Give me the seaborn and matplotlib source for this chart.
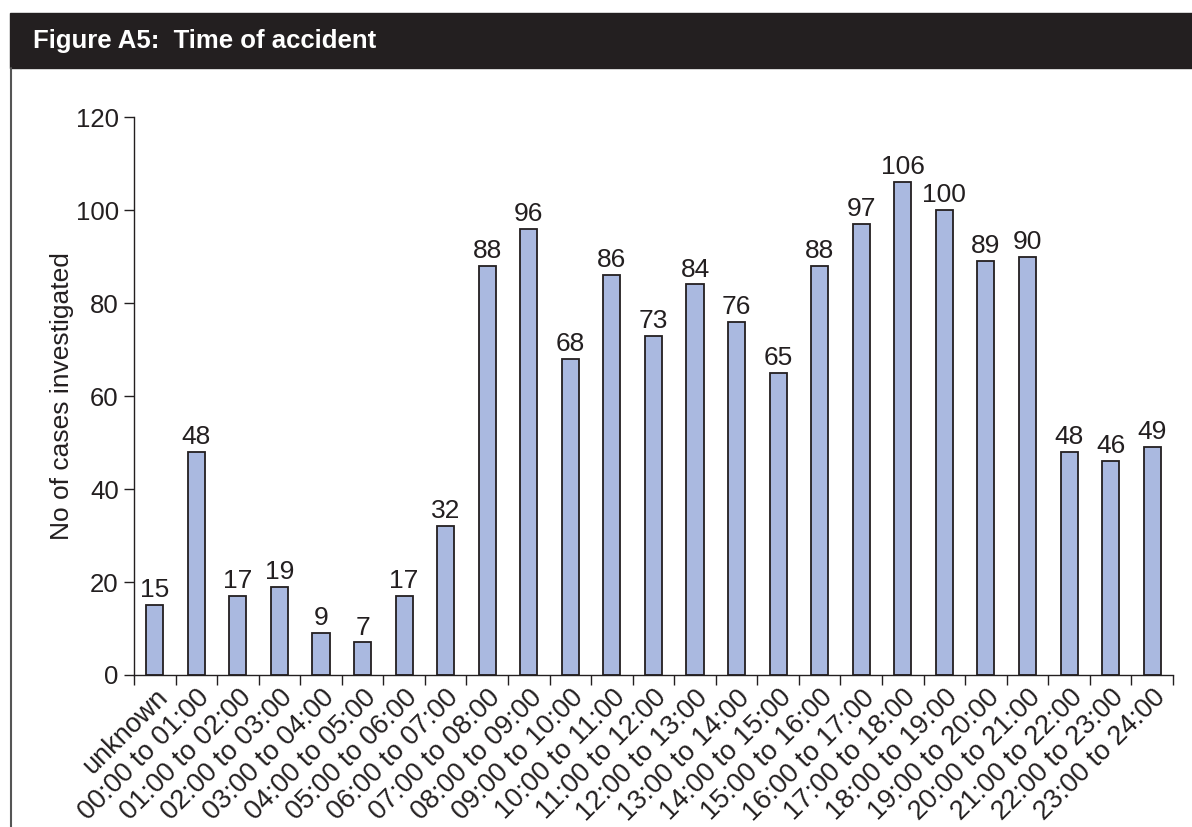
import numpy as np
import pandas as pd
import matplotlib
matplotlib.use('Agg')
import matplotlib.pyplot as plt
import seaborn as sns
from matplotlib.patches import Rectangle
from matplotlib.lines import Line2D

# data
time_bands = ['unknown'] + [f'{h:02d}:00 to {h + 1:02d}:00' for h in range(24)]
cases = [15, 48, 17, 19, 9, 7, 17, 32, 88, 96, 68, 86, 73, 84, 76, 65,
         88, 97, 106, 100, 89, 90, 48, 46, 49]
y_ticks = [0, 20, 40, 60, 80, 100, 120]

title_text = 'Figure A5:  Time of accident'
y_title = 'No of cases investigated'

df = pd.DataFrame({'band': time_bands, 'cases': cases})

sns.set_style('white')
plt.rcParams['font.family'] = ['Liberation Sans', 'DejaVu Sans']
dark = '#231f20'

fig = plt.figure(figsize=(11.92, 8.27), dpi=100)
ax = fig.add_axes([0.1124, 0.1838, 0.8716, 0.6747])

sns.barplot(data=df, x='band', y='cases', color='#aab9e0', edgecolor=dark,
            linewidth=1.3, width=0.41, saturation=1, ax=ax)

for i, v in enumerate(cases):
    ax.text(i, v + 0.6, str(v), ha='center', va='bottom', fontsize=19, color=dark)

ax.set_xlim(-0.5, len(cases) - 0.5)
ax.set_ylim(0, 120)
ax.set_yticks(y_ticks)
ax.tick_params(axis='y', labelsize=18.5, colors=dark, direction='out', length=7,
               width=1.0, pad=4, left=True)
ax.set_xticks(range(len(cases)))
ax.set_xticklabels(time_bands, rotation=45, ha='right', rotation_mode='anchor',
                   fontsize=19.5, color=dark)
ax.tick_params(axis='x', length=0, pad=7)
ax.set_xticks(np.arange(-0.5, len(cases)), minor=True)
ax.tick_params(axis='x', which='minor', direction='out', length=7, width=1.0,
               colors=dark, bottom=True)
for lbl in ax.get_xticklabels():
    lbl.set_color(dark)

ax.set_xlabel('')
ax.set_ylabel(y_title, fontsize=19, color=dark, labelpad=1)

sns.despine(ax=ax)
for s in ['left', 'bottom']:
    ax.spines[s].set_color(dark)
    ax.spines[s].set_linewidth(1.0)

# title bar
fig.patches.append(Rectangle((0.0084, 0.9178), 1 - 0.0084, 0.0665,
                             transform=fig.transFigure, color=dark, zorder=0))
fig.text(0.028, 0.951, title_text, color='white', fontsize=18.5, fontweight='bold',
         va='center', ha='left')
fig.lines.append(Line2D([0.0092, 0.0092], [0, 0.918], transform=fig.transFigure,
                        color='#555555', linewidth=1.5))

fig.savefig('out.png', dpi=100)
